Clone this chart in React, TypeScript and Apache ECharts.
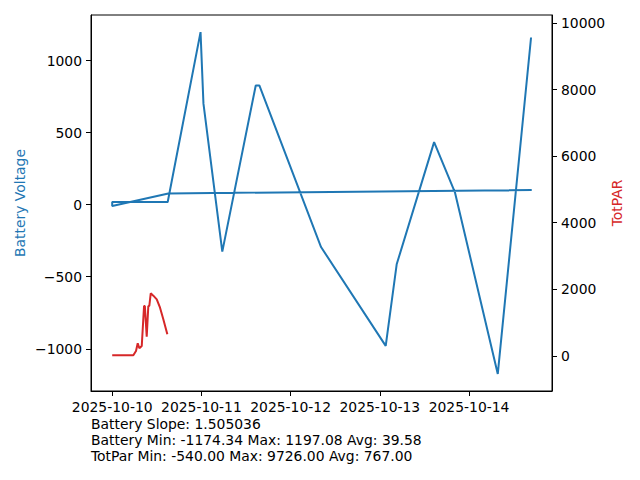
import React, { useEffect, useRef } from "react";
import * as echarts from "echarts";

// ---- data ----
const START = "2025-10-10 00:00";

// Battery voltage trace (in drawing order)
const batteryTimes = [
  "2025-10-14 16:52", "2025-10-10 15:06", "2025-10-10 00:00", "2025-10-10 00:00",
  "2025-10-10 14:56", "2025-10-10 23:46", "2025-10-11 00:33", "2025-10-11 05:37",
  "2025-10-11 14:37", "2025-10-11 15:35", "2025-10-12 08:11", "2025-10-13 01:35",
  "2025-10-13 04:32", "2025-10-13 14:36", "2025-10-13 20:14", "2025-10-14 07:44",
  "2025-10-14 16:41",
];
const batteryValues = [
  101, 78, -10, 18,
  18, 1197.08, 701, -326,
  827, 827, -294, -980,
  -414, 434, 83, -1174.34,
  1160,
];

// TotPAR trace
const parTimes = [
  "2025-10-10 00:00", "2025-10-10 05:41", "2025-10-10 06:24", "2025-10-10 06:52",
  "2025-10-10 07:18", "2025-10-10 07:57", "2025-10-10 08:34", "2025-10-10 08:47",
  "2025-10-10 09:17", "2025-10-10 09:43", "2025-10-10 09:59", "2025-10-10 10:22",
  "2025-10-10 11:04", "2025-10-10 11:59", "2025-10-10 12:52", "2025-10-10 13:45",
  "2025-10-10 14:50",
];
const parValues = [
  20, 20, 150, 380,
  230, 300, 1500, 1500,
  580, 1500, 1500, 1880,
  1810, 1700, 1450, 1100,
  650,
];

const xTickLabels = ["2025-10-10", "2025-10-11", "2025-10-12", "2025-10-13", "2025-10-14"];
const leftTicks = [-1000, -500, 0, 500, 1000];
const rightTicks = [0, 2000, 4000, 6000, 8000, 10000];

const statLines = [
  "Battery Slope: 1.505036",
  "Battery Min: -1174.34 Max: 1197.08 Avg: 39.58",
  "TotPar Min: -540.00 Max: 9726.00 Avg: 767.00",
];

const BLUE = "#1f77b4";
const RED = "#d62728";
const FONT = "DejaVu Sans";
const FS = 13.9;

function toDays(s: string): number {
  const p = (t: string) => {
    const [d, hm] = t.split(" ");
    const [y, m, dd] = d.split("-").map(Number);
    const [h, mi] = (hm || "00:00").split(":").map(Number);
    return Date.UTC(y, m - 1, dd, h, mi);
  };
  return (p(s) - p(START)) / 86400000;
}

const fmtMinus = (v: number) => (v < 0 ? "\u2212" + Math.abs(v) : String(v));

export default function App() {
  const ref = useRef<HTMLDivElement>(null);
  useEffect(() => {
    if (!ref.current) return;
    const chart = echarts.init(ref.current, null, { renderer: "svg" });
    const xTickDays = xTickLabels.map((l) => toDays(l + " 00:00"));
    const axisLine = { show: true, onZero: false, lineStyle: { color: "#000", width: 1 } };
    const axisTick = { show: true, length: 5, lineStyle: { color: "#000", width: 1 } };
    const labelBase = { color: "#000", fontFamily: FONT, fontSize: FS };
    chart.setOption({
      animation: false,
      backgroundColor: "#fff",
      grid: {
        left: 91, right: 88, top: 15, bottom: 89,
        show: true, borderColor: "#000", borderWidth: 1, backgroundColor: "transparent",
      },
      xAxis: {
        type: "value",
        min: -0.2377,
        max: 4.93,
        axisLine,
        axisTick: { ...axisTick, customValues: xTickDays },
        splitLine: { show: false },
        axisLabel: {
          ...labelBase,
          margin: 9,
          customValues: xTickDays,
          formatter: (v: number) => {
            const i = xTickDays.findIndex((d) => Math.abs(d - v) < 1e-6);
            return i >= 0 ? xTickLabels[i] : "";
          },
        },
      },
      yAxis: [
        {
          type: "value",
          position: "left",
          min: -1293,
          max: 1316,
          axisLine,
          axisTick: { ...axisTick, customValues: leftTicks },
          splitLine: { show: false },
          axisLabel: { ...labelBase, margin: 9, customValues: leftTicks, formatter: fmtMinus },
          name: "Battery Voltage",
          nameLocation: "middle",
          nameRotate: 90,
          nameGap: 64,
          nameMoveOverlap: false,
          nameTextStyle: { color: BLUE, fontFamily: FONT, fontSize: FS },
        },
        {
          type: "value",
          position: "right",
          min: -1053,
          max: 10239,
          axisLine,
          axisTick: { ...axisTick, customValues: rightTicks },
          splitLine: { show: false },
          axisLabel: { ...labelBase, margin: 9, customValues: rightTicks, formatter: fmtMinus },
          name: "TotPAR",
          nameLocation: "middle",
          nameRotate: 90,
          nameGap: 58,
          nameMoveOverlap: false,
          nameTextStyle: { color: RED, fontFamily: FONT, fontSize: FS },
        },
      ],
      series: [
        {
          type: "line",
          yAxisIndex: 0,
          data: batteryTimes.map((t, i) => [toDays(t), batteryValues[i]]),
          showSymbol: false,
          lineStyle: { color: BLUE, width: 2 },
          itemStyle: { color: BLUE },
          z: 2,
        },
        {
          type: "line",
          yAxisIndex: 1,
          data: parTimes.map((t, i) => [toDays(t), parValues[i]]),
          showSymbol: false,
          lineStyle: { color: RED, width: 2 },
          itemStyle: { color: RED },
          z: 3,
        },
      ],
      graphic: statLines.map((line, i) => ({
        type: "text",
        left: 91,
        top: 417 + i * 16,
        style: { text: line, fill: "#000", font: `${FS}px "${FONT}"` },
      })),
    });
    return () => chart.dispose();
  }, []);
  return (
    <div
      ref={ref}
      style={{ position: "fixed", left: 0, top: 0, width: 640, height: 480 }}
    />
  );
}
